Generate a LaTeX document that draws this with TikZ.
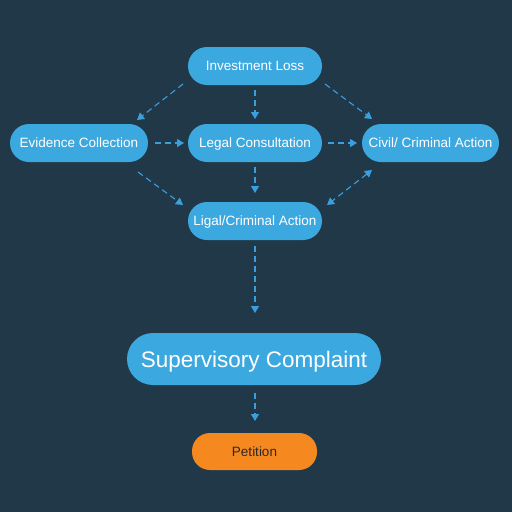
\documentclass[tikz,border=0pt]{standalone}
\usepackage{fontspec}
\setmainfont{Liberation Sans}
\usetikzlibrary{arrows.meta}
\definecolor{bg}{HTML}{213849}
\definecolor{nodeblue}{HTML}{3CA8E0}
\definecolor{arrowblue}{HTML}{3C9FDD}
\definecolor{orangefill}{HTML}{F5891F}
\definecolor{darktext}{HTML}{2A2A2A}
\tikzset{
  bluebox/.style={fill=nodeblue, text=white, rounded corners=19pt, minimum height=38pt, inner sep=0pt, text height=9.7pt, text depth=0pt, font=\fontsize{13.5}{15}\selectfont},
  bigbox/.style={fill=nodeblue, text=white, rounded corners=26pt, minimum height=52pt, minimum width=254pt, inner sep=0pt, text height=16pt, text depth=0pt, font=\fontsize{22.5}{26}\selectfont},
  orangebox/.style={fill=orangefill, text=darktext, rounded corners=18pt, minimum height=37pt, minimum width=125pt, inner sep=0pt, text height=9.7pt, text depth=0pt, font=\fontsize{13.5}{15}\selectfont},
  conn/.style={draw=arrowblue, line width=1.1pt, dash pattern=on 6pt off 4pt, -{Triangle[length=7pt,width=8pt]}},
  conn2/.style={draw=arrowblue, line width=1.1pt, dash pattern=on 6pt off 4pt, {Triangle[length=7pt,width=8pt]}-{Triangle[length=7pt,width=8pt]}}
}
\begin{document}
\begin{tikzpicture}[x=1pt,y=-1pt]
\fill[bg] (0,0) rectangle (512,512);
\useasboundingbox (0,0) rectangle (512,512);
\node[bluebox, minimum width=134pt] (inv) at (255,66) {Investment Loss};
\node[bluebox, minimum width=138pt] (evi) at (79,143) {Evidence Collection};
\node[bluebox, minimum width=134pt] (leg) at (255,143) {Legal Consultation};
\node[bluebox, minimum width=137pt] (civ) at (430.5,143) {Civil/ Criminal Action};
\node[bluebox, minimum width=134pt] (lig) at (255,221) {Ligal/Criminal Action};
\node[bigbox] (sup) at (254,359) {Supervisory Complaint};
\node[orangebox] (pet) at (254.5,451.5) {Petition};
\coordinate (a1s) at (183,84); \coordinate (a1e) at (137,120);
\coordinate (a2s) at (255,90); \coordinate (a2e) at (255,119);
\coordinate (a3s) at (325,84); \coordinate (a3e) at (372,119);
\coordinate (a4s) at (155,143); \coordinate (a4e) at (184,143);
\coordinate (a5s) at (328,143); \coordinate (a5e) at (357,143);
\coordinate (a6s) at (255,167); \coordinate (a6e) at (255,193);
\coordinate (a7s) at (138,172); \coordinate (a7e) at (183,205);
\coordinate (a8s) at (372,170); \coordinate (a8e) at (327,205);
\coordinate (a9s) at (255,246); \coordinate (a9e) at (255,313);
\coordinate (a10s) at (255,393); \coordinate (a10e) at (255,421);
\draw[conn] (a1s) -- (a1e);
\draw[conn] (a2s) -- (a2e);
\draw[conn] (a3s) -- (a3e);
\draw[conn] (a4s) -- (a4e);
\draw[conn] (a5s) -- (a5e);
\draw[conn] (a6s) -- (a6e);
\draw[conn] (a7s) -- (a7e);
\draw[conn2] (a8s) -- (a8e);
\draw[conn] (a9s) -- (a9e);
\draw[conn] (a10s) -- (a10e);
\end{tikzpicture}
\end{document}
